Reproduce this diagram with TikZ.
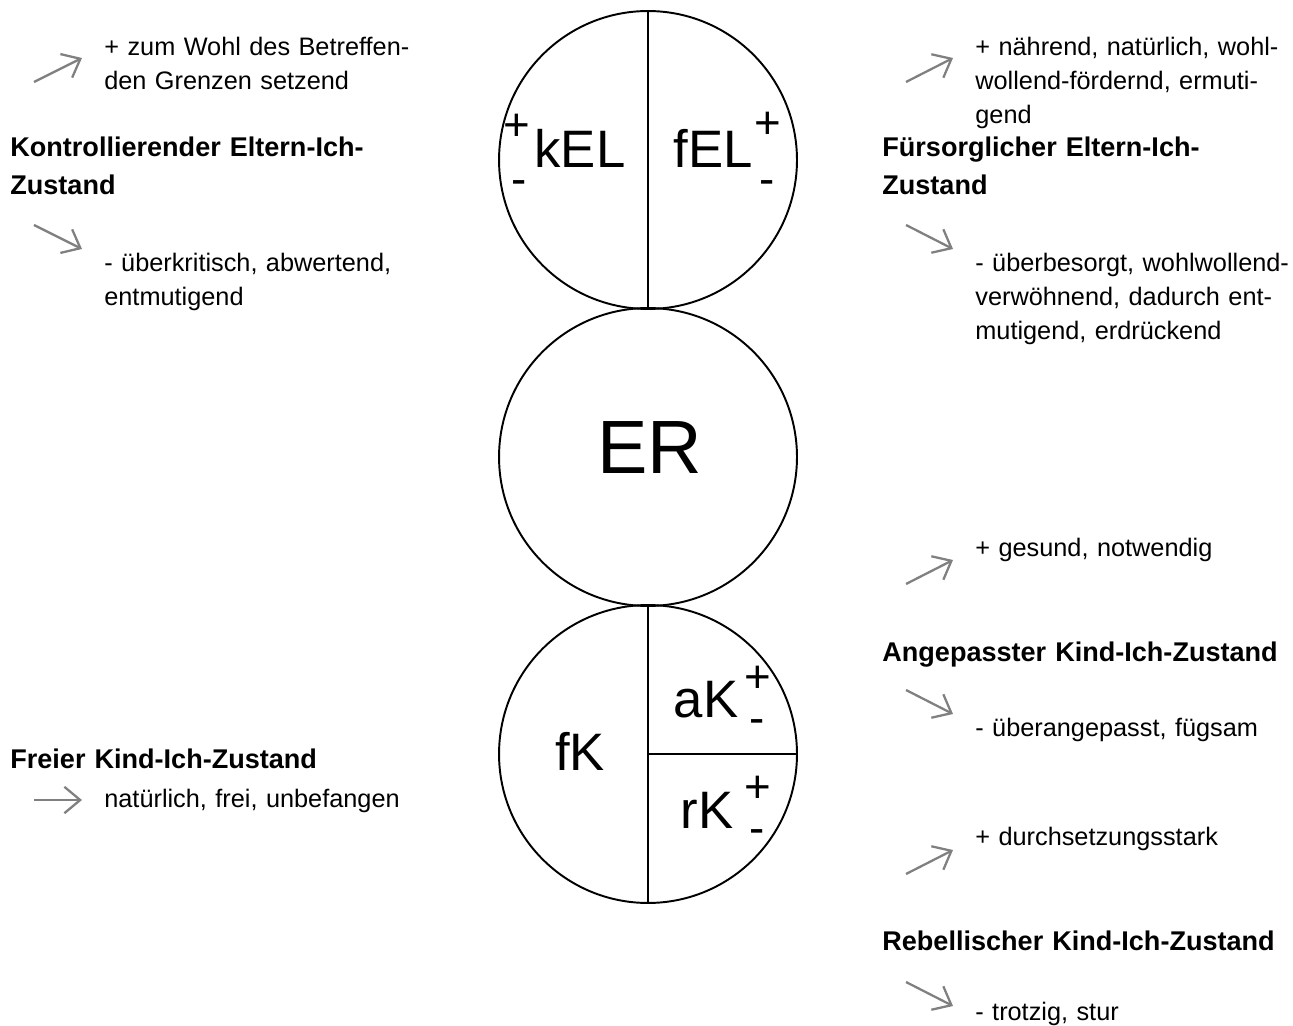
\documentclass[tikz,border=0pt]{standalone}
\usepackage{fontspec}
\setmainfont{Liberation Sans}
\usetikzlibrary{arrows.meta}

\begin{document}
\begin{tikzpicture}
  [
    x                   = 0.02cm,
    y                   = -0.02cm,
    every node/.style   = {inner sep=0pt},
    ich/.style          = {draw, circle, line width=1.1pt, minimum size=5.96cm},
    kuerzel/.style      = {font=\fontsize{30}{36}\selectfont, anchor=base},
    vorzeichen/.style   = {font=\fontsize{26}{32}\selectfont, anchor=base},
    zustand/.style      = {font=\fontsize{15.4}{21.6}\selectfont\bfseries, anchor=base west,
                           text width=9cm, align=left},
    merkmal/.style      = {font=\fontsize{14.4}{19.1}\selectfont, anchor=base west,
                           text width=8cm, align=left},
    pfeil/.style        = {draw=gray, line width=1.3pt, -{Straight Barb[length=9pt,width=15pt]}}
  ]
  \useasboundingbox (0,0) rectangle (1293,1026);

  % die drei Kreise
  \node[ich] (eltern) at (648,160) {};
  \node[ich] (erwachsen) at (648,457) {};
  \node[ich] (kind) at (648,754) {};
  \draw[line width=1.1pt] (eltern.north) -- (eltern.south);
  \draw[line width=1.1pt] (kind.north) -- (kind.south);
  \draw[line width=1.6pt] (kind.center) -- (kind.east);

  \node[kuerzel] (kEL) at (580,168) {kEL};
  \node[kuerzel] (fEL) at (713,168) {fEL};
  \node[kuerzel, font=\fontsize{43}{50}\selectfont] (ER) at (650,473) {ER};
  \node[kuerzel] (fK) at (580,770) {fK};
  \node[kuerzel] (aK) at (706,717) {aK};
  \node[kuerzel] (rK) at (707,828) {rK};

  \node[vorzeichen] (kEL-plus) at (517,141) {+};
  \node[vorzeichen] (kEL-minus) at (519,195) {-};
  \node[vorzeichen] (fEL-plus) at (768,139) {+};
  \node[vorzeichen] (fEL-minus) at (767,195) {-};
  \node[vorzeichen] (aK-plus) at (758,692) {+};
  \node[vorzeichen] (aK-minus) at (757,733) {-};
  \node[vorzeichen] (rK-plus) at (758,802) {+};
  \node[vorzeichen] (rK-minus) at (757,843) {-};

  % links
  \node[merkmal] (kEL-gut) at (104,56) {+ zum Wohl des Betreffen-\\den Grenzen setzend};
  \node[zustand] (kEL-name) at (10,157) {Kontrollierender Eltern-Ich-\\Zustand};
  \node[merkmal] (kEL-schlecht) at (104,272) {- überkritisch, abwertend,\\entmutigend};
  \node[zustand] (fK-name) at (10,768) {Freier Kind-Ich-Zustand};
  \node[merkmal] (fK-text) at (104,807) {natürlich, frei, unbefangen};

  % rechts
  \node[merkmal] (fEL-gut) at (975,56) {+ nährend, natürlich, wohl-\\wollend-fördernd, ermuti-\\gend};
  \node[zustand] (fEL-name) at (882,157) {Fürsorglicher Eltern-Ich-\\Zustand};
  \node[merkmal] (fEL-schlecht) at (975,272) {- überbesorgt, wohlwollend-\\verwöhnend, dadurch ent-\\mutigend, erdrückend};
  \node[merkmal] (aK-gut) at (975,556) {+ gesund, notwendig};
  \node[zustand] (aK-name) at (882,661) {Angepasster Kind-Ich-Zustand};
  \node[merkmal] (aK-schlecht) at (975,736) {- überangepasst, fügsam};
  \node[merkmal] (rK-gut) at (975,845) {+ durchsetzungsstark};
  \node[zustand] (rK-name) at (882,950) {Rebellischer Kind-Ich-Zustand};
  \node[merkmal] (rK-schlecht) at (975,1020) {- trotzig, stur};

  % Pfeile
  \foreach \name/\ax/\ay/\bx/\by in {kel1/34/82/82/58, kel2/34/225/82/249, fk/34/800/82/800,
                                     fel1/906/82/953/58, fel2/906/225/953/249,
                                     ak1/906/584/953/560, ak2/906/690/953/714,
                                     rk1/906/874/953/850, rk2/906/982/953/1006}
  {
    \coordinate (\name-a) at (\ax,\ay);
    \coordinate (\name-b) at (\bx,\by);
    \draw[pfeil] (\name-a) -- (\name-b);
  }
\end{tikzpicture}
\end{document}
